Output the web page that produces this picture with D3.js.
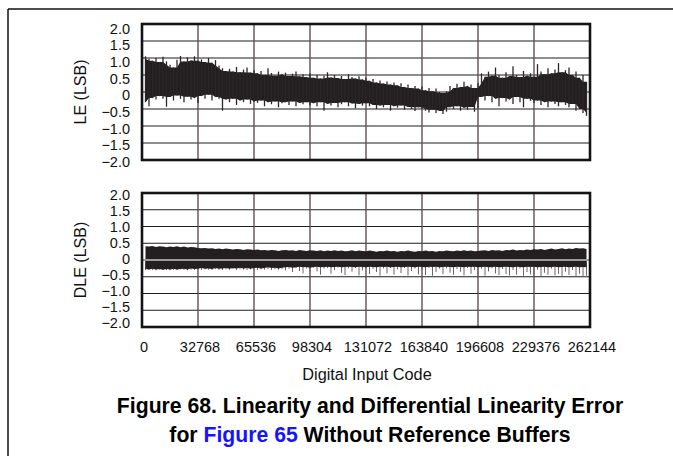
<!DOCTYPE html>
<html><head><meta charset="utf-8">
<script src="https://cdn.jsdelivr.net/npm/d3@7"></script>
<style>
html,body{margin:0;padding:0;background:#fff;}
svg{display:block;font-family:"Liberation Sans",Arial,Helvetica,sans-serif;}
</style></head>
<body>
<script>
// ---- data ----
const xTicks = [0, 32768, 65536, 98304, 131072, 163840, 196608, 229376, 262144];
const yTicks = [2.0, 1.5, 1.0, 0.5, 0, -0.5, -1.0, -1.5, -2.0];
const yTickLabels = ["2.0", "1.5", "1.0", "0.5", "0", "\u22120.5", "\u22121.0", "\u22121.5", "\u22122.0"];
const codeStep = 2048; // sample i (1..127) sits at code i*2048

// LE upper / lower envelope per sample
const leHi = [
 1.05,0.98,0.92,1.0,0.88,1.04,0.9,0.8,
 0.72,0.95,1.06,0.9,1.02,0.93,1.05,0.92,
 0.96,0.88,1.0,0.86,0.94,0.78,0.7,0.62,
 0.68,0.6,0.74,0.58,0.66,0.72,0.57,0.64,
 0.55,0.62,0.5,0.7,0.56,0.48,0.6,0.52,
 0.57,0.47,0.54,0.6,0.46,0.52,0.44,0.55,
 0.42,0.5,0.4,0.48,0.58,0.43,0.5,0.41,
 0.47,0.38,0.52,0.44,0.4,0.46,0.37,0.42,
 0.33,0.38,0.28,0.34,0.25,0.31,0.22,0.28,
 0.2,0.26,0.15,0.22,0.12,0.18,0.1,0.16,
 0.05,0.12,0.02,0.1,0.0,-0.03,0.02,0.18,
 0.12,0.24,0.15,0.3,0.18,0.22,0.12,0.26,
 0.55,0.45,0.6,0.48,0.72,0.5,0.42,0.58,
 0.47,0.76,0.5,0.44,0.62,0.48,0.55,0.45,
 0.82,0.6,0.52,0.7,0.55,0.66,0.85,0.58,
 0.64,0.72,0.5,0.6,0.42,0.5,0.3];
const leLo = [
 -0.3,-0.42,-0.18,-0.22,-0.12,-0.2,-0.43,-0.15,
 -0.25,-0.1,-0.2,-0.3,-0.14,-0.22,-0.18,-0.32,
 -0.12,-0.2,-0.08,-0.25,-0.15,-0.2,-0.55,-0.22,
 -0.3,-0.2,-0.38,-0.25,-0.3,-0.22,-0.35,-0.28,
 -0.32,-0.25,-0.42,-0.3,-0.36,-0.28,-0.45,-0.33,
 -0.3,-0.38,-0.28,-0.42,-0.32,-0.36,-0.3,-0.4,
 -0.33,-0.42,-0.3,-0.55,-0.35,-0.4,-0.32,-0.45,
 -0.36,-0.3,-0.42,-0.34,-0.48,-0.35,-0.4,-0.33,
 -0.42,-0.38,-0.5,-0.4,-0.45,-0.38,-0.55,-0.42,
 -0.46,-0.4,-0.52,-0.44,-0.5,-0.56,-0.45,-0.5,
 -0.55,-0.6,-0.52,-0.62,-0.56,-0.65,-0.58,-0.45,
 -0.5,-0.42,-0.55,-0.46,-0.52,-0.44,-0.58,-0.48,
 -0.15,-0.25,-0.12,-0.3,-0.2,-0.42,-0.18,-0.28,
 -0.22,-0.35,-0.15,-0.3,-0.45,-0.2,-0.26,-0.32,
 -0.25,-0.38,-0.3,-0.45,-0.28,-0.35,-0.42,-0.3,
 -0.38,-0.45,-0.35,-0.55,-0.5,-0.62,-0.7];

// DLE upper envelope, lower core, lower spikes
const dleHi = [
 0.41,0.4,0.42,0.39,0.41,0.4,0.38,0.4,
 0.39,0.41,0.38,0.4,0.37,0.39,0.38,0.36,
 0.35,0.36,0.34,0.35,0.33,0.34,0.32,0.34,
 0.33,0.31,0.33,0.32,0.3,0.32,0.31,0.3,
 0.31,0.29,0.3,0.28,0.3,0.29,0.27,0.29,
 0.3,0.28,0.29,0.27,0.3,0.28,0.27,0.29,
 0.28,0.27,0.29,0.26,0.28,0.27,0.29,0.27,
 0.28,0.26,0.27,0.29,0.26,0.28,0.27,0.26,
 0.28,0.27,0.25,0.27,0.26,0.28,0.26,0.27,
 0.25,0.27,0.26,0.28,0.26,0.25,0.27,0.26,
 0.28,0.26,0.27,0.25,0.27,0.26,0.28,0.27,
 0.26,0.28,0.27,0.29,0.27,0.28,0.26,0.27,
 0.28,0.29,0.27,0.3,0.28,0.29,0.27,0.3,
 0.29,0.31,0.28,0.3,0.29,0.31,0.3,0.32,
 0.31,0.33,0.3,0.32,0.34,0.31,0.33,0.35,
 0.32,0.34,0.33,0.36,0.34,0.35,0.33];
const dleLo = [
 -0.27,-0.28,-0.26,-0.28,-0.27,-0.29,-0.27,-0.28,
 -0.26,-0.28,-0.27,-0.26,-0.28,-0.25,-0.27,-0.26,
 -0.24,-0.26,-0.25,-0.27,-0.24,-0.26,-0.25,-0.24,
 -0.26,-0.24,-0.25,-0.23,-0.25,-0.24,-0.26,-0.24,
 -0.23,-0.25,-0.24,-0.22,-0.24,-0.23,-0.25,-0.23,
 -0.22,-0.21,-0.23,-0.22,-0.2,-0.22,-0.21,-0.23,
 -0.21,-0.2,-0.22,-0.21,-0.2,-0.22,-0.21,-0.2,
 -0.22,-0.21,-0.2,-0.21,-0.22,-0.2,-0.21,-0.22,
 -0.2,-0.21,-0.22,-0.2,-0.21,-0.2,-0.22,-0.21,
 -0.2,-0.22,-0.21,-0.2,-0.21,-0.22,-0.2,-0.21,
 -0.22,-0.2,-0.21,-0.2,-0.22,-0.21,-0.2,-0.21,
 -0.22,-0.2,-0.21,-0.22,-0.2,-0.21,-0.2,-0.22,
 -0.21,-0.2,-0.22,-0.21,-0.2,-0.22,-0.21,-0.2,
 -0.21,-0.22,-0.2,-0.21,-0.22,-0.2,-0.21,-0.2,
 -0.22,-0.21,-0.2,-0.22,-0.21,-0.2,-0.22,-0.21,
 -0.2,-0.22,-0.21,-0.2,-0.22,-0.21,-0.22];
const dleSpike = [
 -0.3,-0.29,-0.3,-0.31,-0.29,-0.3,-0.3,-0.31,
 -0.29,-0.3,-0.28,-0.3,-0.31,-0.29,-0.3,-0.28,
 -0.3,-0.28,-0.29,-0.3,-0.27,-0.29,-0.3,-0.28,
 -0.29,-0.27,-0.3,-0.28,-0.29,-0.3,-0.28,-0.29,
 -0.3,-0.28,-0.29,-0.27,-0.3,-0.28,-0.29,-0.27,
 -0.31,-0.26,-0.36,-0.24,-0.33,-0.4,-0.25,-0.37,
 -0.23,-0.34,-0.44,-0.26,-0.24,-0.41,-0.3,-0.23,
 -0.38,-0.45,-0.25,-0.35,-0.24,-0.46,-0.31,-0.24,
 -0.42,-0.27,-0.36,-0.47,-0.25,-0.4,-0.24,-0.44,
 -0.28,-0.39,-0.24,-0.46,-0.33,-0.25,-0.43,-0.3,
 -0.45,-0.24,-0.47,-0.36,-0.26,-0.42,-0.25,-0.38,
 -0.44,-0.27,-0.35,-0.46,-0.24,-0.41,-0.3,-0.45,
 -0.26,-0.47,-0.34,-0.25,-0.4,-0.45,-0.27,-0.42,
 -0.46,-0.3,-0.44,-0.25,-0.47,-0.36,-0.43,-0.45,
 -0.29,-0.48,-0.38,-0.44,-0.26,-0.46,-0.41,-0.49,
 -0.35,-0.45,-0.3,-0.48,-0.41,-0.5,-0.47];

// ---- drawing ----
const W = 673, H = 456;
const svg = d3.select("body").append("svg").attr("width", W).attr("height", H);

// outer frame (left and top rules)
svg.append("line").attr("x1", 8).attr("x2", 8).attr("y1", 9).attr("y2", H).attr("stroke", "#111").attr("stroke-width", 1.5);
svg.append("line").attr("x1", 8).attr("x2", W).attr("y1", 9).attr("y2", 9).attr("stroke", "#111").attr("stroke-width", 1.5);

const x = d3.scaleLinear().domain([0, 262144]).range([142, 590]);
const xs = i => x((i + 1) * codeStep);

function panel(cfg) {
  const y = d3.scaleLinear().domain([2, -2]).range([cfg.top, cfg.bottom]);
  const yLab = d3.scaleLinear().domain([2, -2]).range(cfg.labelRange);
  const g = svg.append("g");
  g.selectAll("line.h").data(yTicks).join("line")
    .attr("x1", x(0)).attr("x2", x(262144))
    .attr("y1", d => y(d)).attr("y2", d => y(d))
    .attr("stroke", "#1e1e1e").attr("stroke-width", 1.2);
  g.selectAll("line.v").data(xTicks).join("line")
    .attr("x1", d => x(d)).attr("x2", d => x(d))
    .attr("y1", cfg.top).attr("y2", cfg.bottom)
    .attr("stroke", "#5f4d55").attr("stroke-width", 1.4);
  g.selectAll("text.yl").data(yTicks).join("text")
    .attr("x", 130).attr("y", d => yLab(d))
    .attr("dy", "0.36em")
    .attr("text-anchor", "end").attr("font-size", 14.5).attr("fill", "#111")
    .text((d, i) => yTickLabels[i]);
  g.append("text")
    .attr("transform", `translate(86,${(cfg.top + cfg.bottom) / 2}) rotate(-90)`)
    .attr("text-anchor", "middle").attr("font-size", 16).attr("fill", "#111")
    .text(cfg.title);
  const clipId = "clip" + cfg.top;
  svg.append("clipPath").attr("id", clipId).append("rect")
    .attr("x", x(0)).attr("y", cfg.top).attr("width", x(262144) - x(0)).attr("height", cfg.bottom - cfg.top);
  const dg = g.append("g").attr("clip-path", `url(#${clipId})`);
  cfg.draw(dg, y);
  g.append("rect").attr("x", x(0)).attr("y", cfg.top)
    .attr("width", x(262144) - x(0)).attr("height", cfg.bottom - cfg.top)
    .attr("fill", "none").attr("stroke", "#141414").attr("stroke-width", 2.6);
  return y;
}

const idx = d3.range(leHi.length);
const n = leHi.length;
// solid core: envelope of each sample with its neighbours; hairs show the full sample extent
const coreHi = idx.map(i => d3.min([leHi[Math.max(0, i - 1)], leHi[i], leHi[Math.min(n - 1, i + 1)]]));
const coreLo = idx.map(i => d3.max([leLo[Math.max(0, i - 1)], leLo[i], leLo[Math.min(n - 1, i + 1)]]));

panel({
  top: 24, bottom: 160, labelRange: [28.3, 161.7], title: "LE (LSB)",
  draw: (g, y) => {
    const area = d3.area().x(xs).y0(i => y(coreLo[i])).y1(i => y(coreHi[i]));
    g.append("path").datum(idx).attr("d", area).attr("fill", "#231f20");
    g.selectAll("line.s").data(idx).join("line")
      .attr("x1", xs).attr("x2", xs)
      .attr("y1", i => y(leLo[i])).attr("y2", i => y(leHi[i]))
      .attr("stroke", "#2b2627").attr("stroke-width", 1.3);
  }
});

panel({
  top: 193, bottom: 327, labelRange: [194.3, 322.8], title: "DLE (LSB)",
  draw: (g, y) => {
    g.selectAll("line.sp").data(idx).join("line")
      .attr("x1", xs).attr("x2", xs)
      .attr("y1", y(0)).attr("y2", i => y(dleSpike[i]))
      .attr("stroke", "#6a6466").attr("stroke-width", 1);
    const area = d3.area().x(xs).y0(i => y(dleLo[i])).y1(i => y(dleHi[i]));
    g.append("path").datum(idx).attr("d", area).attr("fill", "#231f20");
    g.append("line").attr("x1", x(0)).attr("x2", x(262144))
      .attr("y1", y(0)).attr("y2", y(0))
      .attr("stroke", "#9c9a9b").attr("stroke-width", 1.8);
  }
});

svg.selectAll("text.xl").data(xTicks).join("text")
  .attr("x", d => x(d) + 2).attr("y", 352)
  .attr("text-anchor", "middle").attr("font-size", 14.5).attr("fill", "#111")
  .text(d => d);

svg.append("text").attr("x", 367).attr("y", 380)
  .attr("text-anchor", "middle").attr("font-size", 16.3).attr("fill", "#111")
  .text("Digital Input Code");

svg.append("text").attr("x", 370).attr("y", 413)
  .attr("text-anchor", "middle").attr("font-size", 21.2).attr("font-weight", "bold").attr("fill", "#000")
  .text("Figure 68. Linearity and Differential Linearity Error");
const cap2 = svg.append("text").attr("x", 370).attr("y", 442)
  .attr("text-anchor", "middle").attr("font-size", 21.2).attr("font-weight", "bold").attr("fill", "#000");
cap2.append("tspan").text("for ");
cap2.append("tspan").attr("fill", "#1414ff").text("Figure 65");
cap2.append("tspan").text(" Without Reference Buffers");
</script>
</body></html>
